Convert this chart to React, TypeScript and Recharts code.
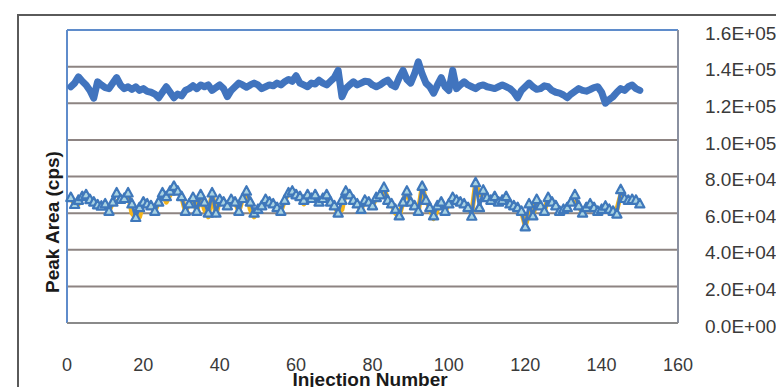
import React from "react";
import { LineChart, Line, XAxis, YAxis, CartesianGrid, ReferenceLine } from "recharts";

// Peak area values in thousands of cps, injections 1..150
const upperSeries = [
  129, 131, 134.4, 132, 130, 127, 122.8, 131.7, 130, 128.5,
  128, 131, 134, 130, 128, 129, 127.5, 129, 127, 128,
  126.5, 126, 125, 123, 126, 129, 126, 123, 125, 124,
  127, 128, 129.6, 128, 130, 129, 130, 127, 128.5, 130,
  128, 123.6, 127, 129, 131, 130, 128.7, 130, 131, 130,
  128, 129, 130, 129.5, 131, 130, 131.7, 133, 132, 135,
  131, 130, 129, 131, 130.5, 132.6, 131, 130, 132, 134,
  138, 123.5, 128, 130, 131.7, 130, 131, 132, 131.7, 130,
  129, 130, 131.5, 132.6, 130, 129, 134, 138, 133, 131,
  136, 142.6, 136, 131, 129, 125.5, 130, 134, 129, 127,
  138, 128, 130, 131.7, 130, 129, 128, 129.5, 130, 129,
  128.5, 128, 129, 130, 129, 128, 126, 123, 127, 129,
  131, 129, 127.6, 128, 129.5, 129, 127, 126, 125.5, 124.5,
  123, 125, 126.5, 128, 127, 126.6, 127.5, 128.5, 129, 126,
  120, 122, 123.6, 126, 128, 127, 129, 130, 128, 127,
];

const lowerBlueSeries = [
  68.5, 64.7, 67, 69, 70, 67.4, 66, 64.5, 63.8, 65,
  61, 66, 71, 67.5, 68, 71, 65, 57.6, 63, 66,
  65, 64, 61, 66, 71, 69, 72, 74.6, 72, 69,
  61, 65, 68.5, 61, 70, 66, 60, 71, 60, 67.4,
  66, 64, 67.4, 66, 61, 68, 72, 66, 60, 62,
  64, 67.4, 66, 65, 63, 61, 67, 71, 72, 70,
  69, 67, 70, 68, 70, 66, 68, 70, 66, 64,
  60, 67, 72, 70, 67, 65, 62, 67, 66, 64,
  68.5, 70, 74, 67, 65, 62, 58.5, 66, 72, 66,
  64, 61, 74.6, 67, 63, 58.5, 64, 66, 61, 65,
  68.5, 67, 66, 65, 63, 58.3, 76.6, 63, 72.5, 68.5,
  67, 69, 66, 67, 69, 65, 64, 63, 61, 52.5,
  65, 58.5, 67.4, 64, 61, 68.5, 66, 64, 61, 62,
  63, 66, 70, 64, 60, 63, 65, 63, 61, 62,
  63.8, 62, 61, 59.5, 72.8, 68, 67, 67.4, 67, 65,
];

const lowerOrangeSeries = [
  68.5, 64.7, 65, 69, 70, 67.4, 66, 64.5, 63.8, 65,
  61, 66, 66, 67.5, 68, 71, 60, 57.6, 58, 66,
  65, 64, 61, 66, 71, 66, 70, 74.6, 72, 69,
  61, 65, 68.5, 61, 70, 62, 58, 71, 59, 67.4,
  66, 64, 67.4, 66, 61, 68, 72, 62, 58, 62,
  64, 67.4, 66, 65, 62, 61, 67, 71, 72, 70,
  69, 65, 70, 68, 70, 66, 68, 70, 66, 64,
  60, 62, 72, 70, 67, 65, 62, 67, 66, 64,
  68.5, 70, 74, 67, 65, 60, 58.5, 66, 72, 66,
  64, 61, 74.6, 67, 63, 57, 62, 66, 61, 65,
  68.5, 67, 66, 65, 63, 60, 76.6, 70, 72.5, 68.5,
  67, 69, 66, 67, 69, 65, 64, 63, 61, 53,
  60, 58.5, 67.4, 64, 61, 68.5, 66, 64, 61, 62,
  63, 66, 66, 64, 60, 63, 65, 63, 61, 62,
  63.8, 62, 61, 62, 70, 68, 67, 67.4, 67, 65,
];

const xTicks = [0, 20, 40, 60, 80, 100, 120, 140, 160];
const yTicks = [0, 20, 40, 60, 80, 100, 120, 140, 160];

const data = upperSeries.map((u, i) => ({
  x: i + 1,
  upper: u,
  blue: lowerBlueSeries[i],
  orange: lowerOrangeSeries[i],
}));

const fmtSci = (v: number) => {
  const val = v * 1000;
  if (val === 0) return "0.0E+00";
  const exp = Math.floor(Math.log10(val));
  const mant = val / Math.pow(10, exp);
  return mant.toFixed(1) + "E+" + String(exp).padStart(2, "0");
};

const FONT = "'Liberation Sans', Arial, sans-serif";

const TriangleDot = (props: any) => {
  const { cx, cy, index } = props;
  if (cx == null || cy == null) return null;
  const w = 4.6;
  const pts = `${cx},${cy - 5} ${cx - w},${cy + 3.5} ${cx + w},${cy + 3.5}`;
  return (
    <polygon
      key={`tri-${index}`}
      points={pts}
      fill="#a9d3e2"
      stroke="#3f78bb"
      strokeWidth={2.2}
      strokeLinejoin="round"
    />
  );
};

const YTick = (props: any) => {
  const { x, y, payload } = props;
  return (
    <text x={x} y={y + 3} dy="0.355em" textAnchor="start" fill="#3a3a3a" fontSize={19} fontFamily={FONT}>
      {fmtSci(payload.value)}
    </text>
  );
};

export default function App() {
  return (
    <div style={{ position: "absolute", left: 0, top: 0, width: 776, height: 387, overflow: "hidden", background: "#fff" }}>
      <div
        style={{
          position: "absolute",
          left: 17,
          top: 14,
          width: 800,
          height: 400,
          borderLeft: "2px solid #5a5a5a",
          borderTop: "2px solid #5a5a5a",
        }}
      />
      <div style={{ position: "absolute", left: 0, top: 0 }}>
        <LineChart width={776} height={387} data={data} margin={{ top: 30, right: 0, bottom: 0, left: 67 }}>
          <CartesianGrid horizontal vertical={false} stroke="#8d8482" strokeWidth={2} />
          <XAxis
            dataKey="x"
            type="number"
            domain={[0, 160]}
            ticks={xTicks}
            interval={0}
            height={64}
            tickSize={0}
            tickMargin={35}
            tickLine={false}
            axisLine={{ stroke: "#8a8a8a", strokeWidth: 2 }}
            tick={{ fill: "#3a3a3a", fontSize: 18, fontFamily: FONT }}
          />
          <YAxis
            orientation="right"
            type="number"
            domain={[0, 160]}
            ticks={yTicks}
            interval={0}
            width={98}
            tickSize={0}
            tickMargin={27}
            tickLine={false}
            axisLine={false}
            tick={<YTick />}
          />
          <ReferenceLine x={0} stroke="#5f8ccb" strokeWidth={2} />
          <ReferenceLine y={160} stroke="#5f8ccb" strokeWidth={2} />
          <ReferenceLine x={160} stroke="#8a90a0" strokeWidth={2} />
          <Line
            dataKey="orange"
            stroke="#f4b41a"
            strokeWidth={5}
            dot={false}
            isAnimationActive={false}
            strokeLinejoin="round"
          />
          <Line
            dataKey="blue"
            stroke="#4178bd"
            strokeWidth={3}
            dot={<TriangleDot />}
            isAnimationActive={false}
            strokeLinejoin="round"
          />
          <Line
            dataKey="upper"
            stroke="#4174be"
            strokeWidth={7}
            dot={false}
            isAnimationActive={false}
            strokeLinejoin="round"
            strokeLinecap="round"
          />
        </LineChart>
      </div>
      <div
        style={{
          position: "absolute",
          left: 53,
          top: 222,
          transform: "translate(-50%, -50%) rotate(-90deg)",
          whiteSpace: "nowrap",
          fontFamily: FONT,
          fontWeight: "bold",
          fontSize: 19,
          color: "#1a1a1a",
        }}
      >
        Peak Area (cps)
      </div>
      <div
        style={{
          position: "absolute",
          left: 370,
          top: 369,
          transform: "translateX(-50%)",
          whiteSpace: "nowrap",
          fontFamily: FONT,
          fontWeight: "bold",
          fontSize: 19,
          lineHeight: "22px",
          color: "#1a1a1a",
        }}
      >
        Injection Number
      </div>
    </div>
  );
}
